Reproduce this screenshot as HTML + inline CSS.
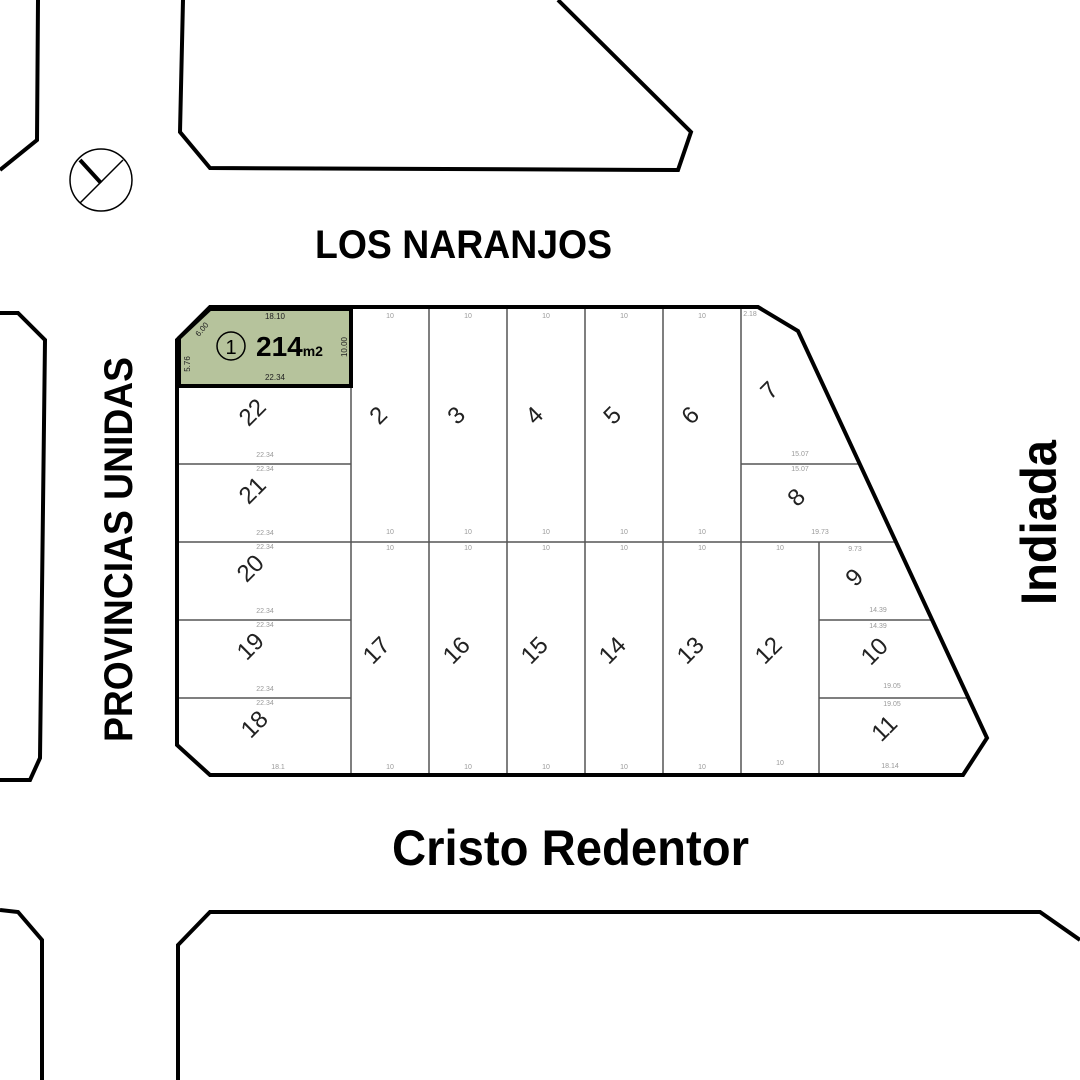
<!DOCTYPE html><html><head><style>body{margin:0;background:#fff}svg{display:block}</style></head><body>
<svg width="1080" height="1080" viewBox="0 0 1080 1080" xmlns="http://www.w3.org/2000/svg" font-family="Liberation Sans, sans-serif">
<g fill="none" stroke="#000" stroke-width="4" stroke-linejoin="miter">
<polyline points="38,0 37,140 0,170"/>
<polyline points="183,0 180,132 210,168 678,170 691,132 558,0"/>
<polyline points="0,313 18,313 45,340 40,758 30,780 0,780"/>
<polyline points="0,910 18,912 42,940 42,1080"/>
<polyline points="178,1080 178,945 210,912 1040,912 1080,940"/>
</g>
<circle cx="101" cy="180" r="31" fill="none" stroke="#000" stroke-width="1.5"/>
<line x1="80" y1="160" x2="101" y2="183" stroke="#000" stroke-width="4"/>
<line x1="80" y1="203" x2="123" y2="160" stroke="#000" stroke-width="1.5"/>
<g stroke="#555" stroke-width="1.5">
<line x1="351" y1="309" x2="351" y2="775"/><line x1="429" y1="309" x2="429" y2="775"/>
<line x1="507" y1="309" x2="507" y2="775"/><line x1="585" y1="309" x2="585" y2="775"/>
<line x1="663" y1="309" x2="663" y2="775"/><line x1="741" y1="309" x2="741" y2="775"/>
<line x1="819" y1="542" x2="819" y2="775"/>
<line x1="179" y1="464" x2="351" y2="464"/><line x1="179" y1="542" x2="896" y2="542"/>
<line x1="179" y1="620" x2="351" y2="620"/><line x1="179" y1="698" x2="351" y2="698"/>
<line x1="741" y1="464" x2="860" y2="464"/><line x1="819" y1="620" x2="932" y2="620"/>
<line x1="819" y1="698" x2="968" y2="698"/>
</g>
<polygon points="210,309 351,309 351,386 179,386 179,338" fill="#b6c39c" stroke="#000" stroke-width="4"/>
<polygon points="210,307 758,307 798,331 987,738 963,775 210,775 177,745 177,340" fill="none" stroke="#000" stroke-width="4"/>
<circle cx="231" cy="346" r="14" fill="none" stroke="#000" stroke-width="1.5"/>
<text x="231" y="354" font-size="20" text-anchor="middle">1</text>
<text x="256" y="356" font-size="28" font-weight="bold">214<tspan font-size="14">m2</tspan></text>
<g font-size="8" fill="#222" text-anchor="middle"><text x="275" y="319">18.10</text><text x="275" y="380">22.34</text>
<text transform="translate(347,347) rotate(-90)">10.00</text><text transform="translate(190,364) rotate(-90)">5.76</text><text transform="translate(204,331) rotate(-50)">6.00</text></g>
<g font-size="7" fill="#999" text-anchor="middle">
<text x="265" y="457">22.34</text><text x="265" y="471">22.34</text><text x="265" y="535">22.34</text><text x="265" y="549">22.34</text>
<text x="265" y="613">22.34</text><text x="265" y="627">22.34</text><text x="265" y="691">22.34</text><text x="265" y="705">22.34</text><text x="278" y="769">18.1</text>
<text x="390" y="318">10</text><text x="468" y="318">10</text><text x="546" y="318">10</text><text x="624" y="318">10</text><text x="702" y="318">10</text>
<text x="390" y="534">10</text><text x="468" y="534">10</text><text x="546" y="534">10</text><text x="624" y="534">10</text><text x="702" y="534">10</text>
<text x="390" y="550">10</text><text x="468" y="550">10</text><text x="546" y="550">10</text><text x="624" y="550">10</text><text x="702" y="550">10</text><text x="780" y="550">10</text>
<text x="390" y="769">10</text><text x="468" y="769">10</text><text x="546" y="769">10</text><text x="624" y="769">10</text><text x="702" y="769">10</text><text x="780" y="765">10</text>
<text x="800" y="456">15.07</text><text x="800" y="471">15.07</text><text x="820" y="534">19.73</text><text x="855" y="551">9.73</text>
<text x="878" y="612">14.39</text><text x="878" y="628">14.39</text><text x="892" y="688">19.05</text><text x="892" y="706">19.05</text><text x="890" y="768">18.14</text>
<text x="750" y="316">2.18</text></g>
<g font-size="24" fill="#222" text-anchor="middle" font-weight="300">
<text transform="translate(258,418) rotate(-45)">22</text><text transform="translate(258,496) rotate(-45)">21</text>
<text transform="translate(256,574) rotate(-45)">20</text><text transform="translate(256,652) rotate(-45)">19</text>
<text transform="translate(260,730) rotate(-45)">18</text><text transform="translate(384,421) rotate(-45)">2</text>
<text transform="translate(462,421) rotate(-45)">3</text><text transform="translate(540,421) rotate(-45)">4</text>
<text transform="translate(618,421) rotate(-45)">5</text><text transform="translate(696,421) rotate(-45)">6</text>
<text transform="translate(775,396) rotate(-45)">7</text><text transform="translate(802,503) rotate(-45)">8</text>
<text transform="translate(860,583) rotate(-45)">9</text><text transform="translate(880,657) rotate(-45)">10</text>
<text transform="translate(890,734) rotate(-45)">11</text><text transform="translate(774,656) rotate(-45)">12</text>
<text transform="translate(696,656) rotate(-45)">13</text><text transform="translate(618,656) rotate(-45)">14</text>
<text transform="translate(540,656) rotate(-45)">15</text><text transform="translate(462,656) rotate(-45)">16</text>
<text transform="translate(382,656) rotate(-45)">17</text></g>
<g font-weight="bold" fill="#000">
<text x="315" y="258" font-size="40" textLength="297" lengthAdjust="spacingAndGlyphs">LOS NARANJOS</text>
<text x="392" y="865" font-size="50" textLength="357" lengthAdjust="spacingAndGlyphs">Cristo Redentor</text>
<text transform="translate(132,742) rotate(-90)" font-size="40" textLength="385" lengthAdjust="spacingAndGlyphs">PROVINCIAS UNIDAS</text>
<text transform="translate(1056,605) rotate(-90)" font-size="50" textLength="165" lengthAdjust="spacingAndGlyphs">Indiada</text>
</g>
</svg></body></html>
